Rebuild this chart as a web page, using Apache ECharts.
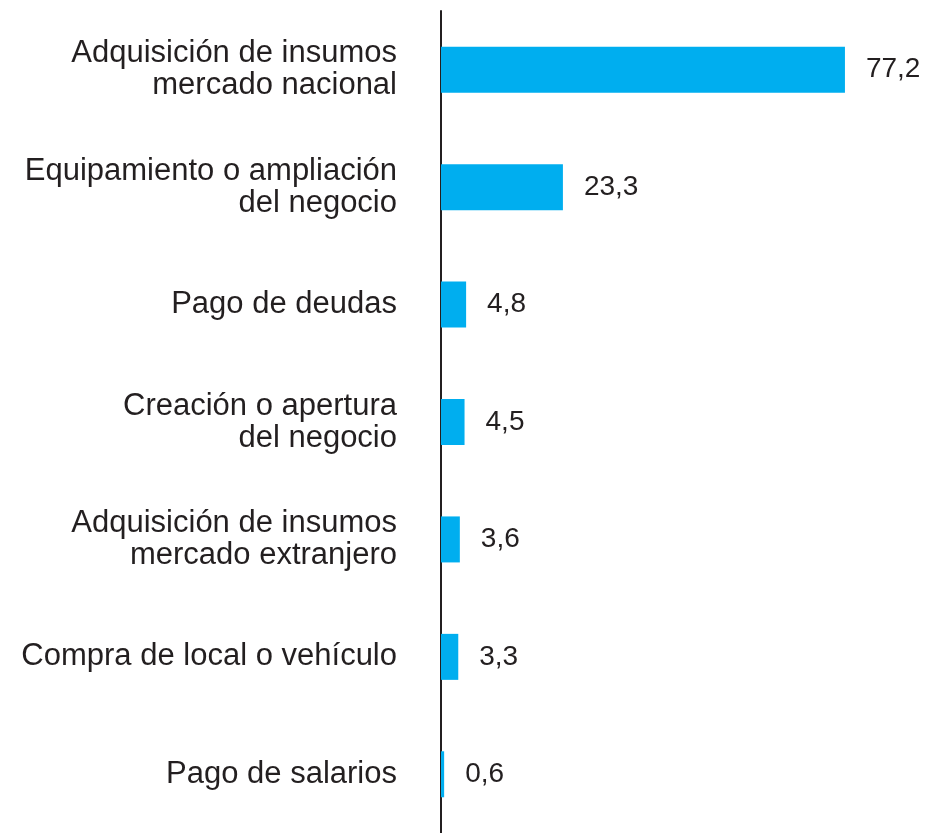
<!DOCTYPE html>
<html>
<head>
<meta charset="utf-8">
<script src="https://cdn.jsdelivr.net/npm/echarts@6/dist/echarts.min.js"></script>
<style>
  html, body { margin: 0; padding: 0; background: #fff; }
  #chart { width: 930px; height: 833px; }
</style>
</head>
<body>
<div id="chart"></div>
<script>
// categories top to bottom
const categories = [
  'Adquisición de insumos\nmercado nacional',
  'Equipamiento o ampliación\ndel negocio',
  'Pago de deudas',
  'Creación o apertura\ndel negocio',
  'Adquisición de insumos\nmercado extranjero',
  'Compra de local o vehículo',
  'Pago de salarios'
];
const values = [77.2, 23.3, 4.8, 4.5, 3.6, 3.3, 0.6];

const textColor = '#231f20';
const font = "'Liberation Sans', Arial, sans-serif";

const chart = echarts.init(document.getElementById('chart'));
chart.setOption({
  animation: false,
  grid: { left: 441, top: 11, width: 418.6, bottom: 0, containLabel: false },
  xAxis: {
    type: 'value',
    min: 0,
    max: 80,
    show: false
  },
  yAxis: {
    type: 'category',
    data: categories,
    inverse: true,
    axisLine: { show: true, lineStyle: { color: textColor, width: 2 } },
    axisTick: { show: false },
    splitLine: { show: false },
    axisLabel: {
      margin: 44,
      color: textColor,
      fontFamily: font,
      fontSize: 31,
      lineHeight: 32,
      align: 'right'
    }
  },
  series: [{
    type: 'bar',
    data: values,
    barWidth: 46,
    itemStyle: { color: '#00aeef' },
    label: {
      show: true,
      position: 'right',
      distance: 21,
      color: textColor,
      fontFamily: font,
      fontSize: 28,
      formatter: p => String(p.value).replace('.', ',')
    }
  }]
});
</script>
</body>
</html>
